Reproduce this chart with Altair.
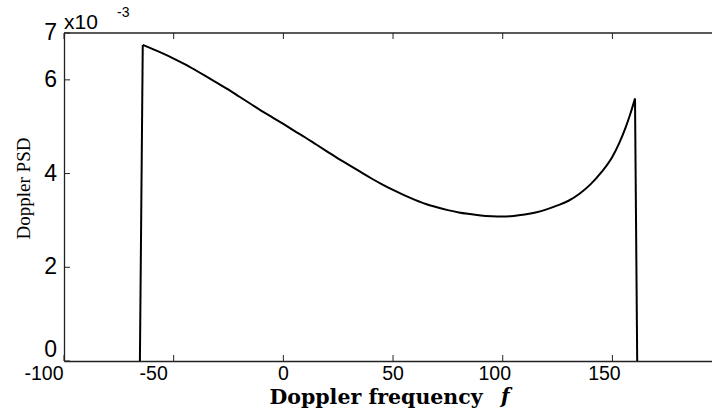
import altair as alt
import pandas as pd

# Doppler frequency (x) and PSD values in units of 1e-3 (y)
freq = [-65.4, -64.1, -60, -55, -50, -45, -40, -35, -30, -25, -20, -15, -10, -5,
        0, 5, 10, 15, 20, 25, 30, 35, 40, 45, 50, 55, 60, 65, 70, 75, 80, 85, 90,
        95, 100, 105, 110, 115, 120, 125, 130, 135, 140, 145, 150, 153, 156, 158,
        160.3, 161.3]
psd = [0.0, 6.745, 6.665, 6.565, 6.455, 6.335, 6.205, 6.07, 5.93, 5.79, 5.64,
       5.49, 5.34, 5.20, 5.06, 4.91, 4.77, 4.62, 4.47, 4.32, 4.18, 4.04, 3.90,
       3.77, 3.65, 3.54, 3.44, 3.35, 3.28, 3.22, 3.17, 3.135, 3.105, 3.09, 3.085,
       3.095, 3.125, 3.17, 3.235, 3.32, 3.42, 3.57, 3.77, 4.03, 4.36, 4.64, 4.98,
       5.25, 5.60, 0.0]

x_ticks = [-100, -50, 0, 50, 100, 150]
x_labels = ["-100", "-50", "0", "50", "100", "150"]
y_ticks = [0, 2, 4, 6, 7]
y_labels = ["0", "2", "4", "6", "7"]
x_domain = [-100, 195.4]
y_domain = [0, 7]

W, H = 648, 328
AX = "#222"

n = len(freq)
side = ["L" if i <= 1 else ("R" if i >= n - 2 else "") for i in range(n)]
df = pd.DataFrame({"f": freq, "psd": psd, "side": side,
                   "inner": [0 < i < n - 1 for i in range(n)]})
xt = pd.DataFrame({"t": x_ticks, "lab": x_labels})
yt = pd.DataFrame({"t": y_ticks, "lab": y_labels})
one = pd.DataFrame({"k": [0]})

xscale = alt.Scale(domain=x_domain, nice=False, zero=False)
yscale = alt.Scale(domain=y_domain, nice=False)

x_axis = alt.Axis(
    values=x_ticks, grid=False, ticks=False, labels=False,
    domainColor=AX, domainWidth=1.3,
    title="Doppler frequency", titleFont="DejaVu Serif", titleFontSize=20.5,
    titleFontWeight="bold", titleColor="black", titleX=205, titleY=42,
    titleAlign="left", titleBaseline="alphabetic",
)
y_axis = alt.Axis(
    values=y_ticks, grid=False, ticks=False, labels=False,
    domainColor=AX, domainWidth=1.3,
    title="Doppler PSD", titleFont="Liberation Serif", titleFontSize=19,
    titleFontWeight="normal", titleColor="black", titleX=-41, titleY=155,
    titleAngle=-90, titleAlign="center", titleBaseline="middle",
)

curve = alt.Chart(df).transform_filter("datum.inner").mark_line(
    color="black", strokeWidth=2, clip=False, interpolate="monotone"
).encode(
    x=alt.X("f:Q", scale=xscale, axis=x_axis),
    y=alt.Y("psd:Q", scale=yscale, axis=y_axis),
)
edges = alt.Chart(df).transform_filter("datum.side != ''").mark_line(
    color="black", strokeWidth=2, clip=False
).encode(
    x=alt.X("f:Q", scale=xscale, axis=None),
    y=alt.Y("psd:Q", scale=yscale, axis=None),
    detail="side:N",
)

bottom_ticks = alt.Chart(xt).mark_rule(color=AX, strokeWidth=1).encode(
    x=alt.X("t:Q", scale=xscale, axis=None),
    y=alt.value(H), y2=alt.value(H - 6),
)
top_ticks = alt.Chart(xt).mark_rule(color=AX, strokeWidth=1).encode(
    x=alt.X("t:Q", scale=xscale, axis=None),
    y=alt.value(0), y2=alt.value(6),
)
left_ticks = alt.Chart(yt).mark_rule(color=AX, strokeWidth=1).encode(
    y=alt.Y("t:Q", scale=yscale, axis=None),
    x=alt.value(0), x2=alt.value(6),
)
top_border = alt.Chart(one).mark_rule(color=AX, strokeWidth=1.3).encode(
    x=alt.value(0), x2=alt.value(W), y=alt.value(0),
)


def xlab(test, dx):
    return alt.Chart(xt).transform_filter(test).mark_text(
        font="Liberation Sans", fontSize=19.5, color="black", align="center",
        baseline="top", dx=dx,
    ).encode(
        x=alt.X("t:Q", scale=xscale, axis=None),
        y=alt.value(H + 4),
        text="lab:N",
    )


xl_neg = xlab("datum.t < 0", -20)
xl_mid = xlab("datum.t >= 0 && datum.t < 100", 0)
xl_big = xlab("datum.t >= 100", -8)


def ylab(test, dy):
    return alt.Chart(yt).transform_filter(test).mark_text(
        font="Liberation Sans", fontSize=23, color="black", align="right",
        baseline="middle", dy=dy,
    ).encode(
        y=alt.Y("t:Q", scale=yscale, axis=None),
        x=alt.value(-7),
        text="lab:N",
    )


yl_zero = ylab("datum.t == 0", -11)
yl_rest = ylab("datum.t != 0", 0)

exp_base = alt.Chart(one).mark_text(
    text="x10", font="Liberation Sans", fontSize=21, align="left",
    baseline="alphabetic", color="black").encode(x=alt.value(0), y=alt.value(-4))
exp_pow = alt.Chart(one).mark_text(
    text="-3", font="Liberation Sans", fontSize=14, align="left",
    baseline="alphabetic", color="black").encode(x=alt.value(53), y=alt.value(-16))
f_sym = alt.Chart(one).mark_text(
    text="f", font="DejaVu Serif", fontSize=20, fontStyle="italic",
    fontWeight="bold", align="left", baseline="alphabetic",
    color="black").encode(x=alt.value(437), y=alt.value(370))

chart = alt.layer(
    curve, edges, bottom_ticks, top_ticks, left_ticks, top_border,
    xl_neg, xl_mid, xl_big, yl_zero, yl_rest,
    exp_base, exp_pow, f_sym,
).resolve_axis(x="independent", y="independent").properties(
    width=W, height=H,
    autosize=alt.AutoSizeParams(type="none"),
    padding={"left": 64, "top": 33, "right": 0, "bottom": 51},
    background="white",
).configure_view(stroke=None)

chart.save("out.html", embed_options={"renderer": "svg", "actions": False})
